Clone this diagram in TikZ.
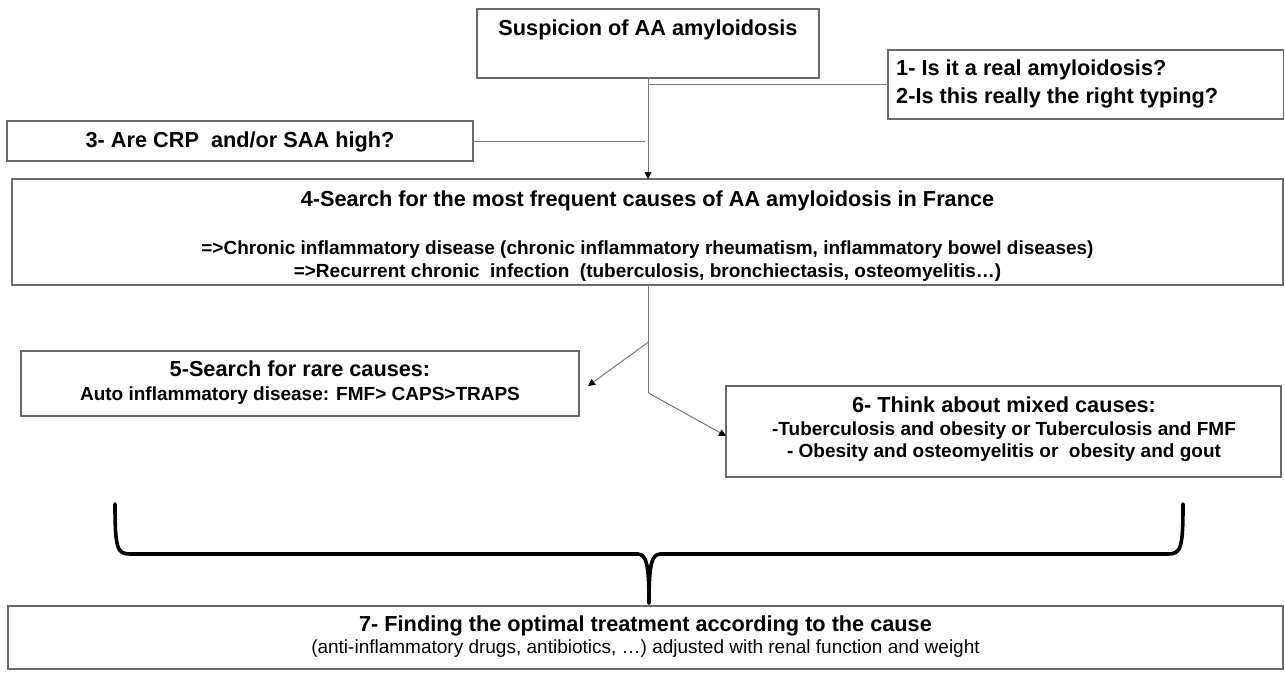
\documentclass[tikz,border=0pt]{standalone}
\usepackage{fontspec}
\setmainfont{Liberation Sans}
\usetikzlibrary{arrows.meta}
\definecolor{boxgray}{HTML}{6A6A6A}
\definecolor{linegray}{HTML}{7A7A7A}
\begin{document}
\begin{tikzpicture}[x=1pt,y=-1pt,
  box/.style={draw=boxgray, line width=1.2pt, inner sep=0pt, outer sep=0pt, anchor=north west},
  bigt/.style={inner sep=0pt, anchor=base, font=\bfseries\fontsize{21.7}{26}\selectfont},
  smallt/.style={inner sep=0pt, anchor=base, font=\bfseries\fontsize{19}{23}\selectfont},
  regt/.style={inner sep=0pt, anchor=base, font=\fontsize{19}{23}\selectfont},
  conn/.style={draw=linegray, line width=1pt},
  arr/.style={conn, -{Triangle[length=7pt,width=7pt,color=black]}},
  bracepath/.style={draw=black, line width=3.6pt, line cap=round, line join=round}]
\useasboundingbox (0,0) rectangle (1285,672);

% boxes
\node[box, minimum width=342pt, minimum height=69pt] (b1) at (477,9) {};
\node[box, minimum width=395.5pt, minimum height=69pt] (b2) at (888,50) {};
\node[box, minimum width=466pt, minimum height=40pt] (b3) at (7,121) {};
\node[box, minimum width=1271pt, minimum height=106pt] (b4) at (12,179) {};
\node[box, minimum width=558pt, minimum height=65pt] (b5) at (21,351) {};
\node[box, minimum width=555pt, minimum height=91pt] (b6) at (726,386) {};
\node[box, minimum width=1275pt, minimum height=63pt] (b7) at (8,606) {};

% texts
\node[bigt] (t1) at (648,35) {Suspicion of AA amyloidosis};
\node[bigt, anchor=base west] (t2a) at (896,75) {1- Is it a real amyloidosis?};
\node[bigt, anchor=base west] (t2b) at (896,103) {2-Is this really the right typing?};
\node[bigt] (t3) at (240,147) {3- Are CRP\ \ and/or SAA high?};
\node[bigt] (t4a) at (647.5,206) {4-Search for the most frequent causes of AA amyloidosis in France};
\node[smallt] (t4b) at (647.5,254) {=>Chronic inflammatory disease (chronic inflammatory rheumatism, inflammatory bowel diseases)};
\node[smallt] (t4c) at (647.5,277) {=>Recurrent chronic\ \ infection\ \ (tuberculosis, bronchiectasis, osteomyelitis…)};
\node[bigt] (t5a) at (300,376) {5-Search for rare causes:};
\node[smallt] (t5b) at (300,400) {Auto inflammatory disease: FMF> CAPS>TRAPS};
\node[bigt] (t6a) at (1004,412) {6- Think about mixed causes:};
\node[smallt] (t6b) at (1004,435) {-Tuberculosis and obesity or Tuberculosis and FMF};
\node[smallt] (t6c) at (1004,457) {- Obesity and osteomyelitis or\ \ obesity and gout};
\node[bigt] (t7a) at (645.5,631) {7- Finding the optimal treatment according to the cause};
\node[regt] (t7b) at (645.5,653) {(anti-inflammatory drugs, antibiotics, …) adjusted with renal function and weight};

% connectors
\coordinate (top) at (648,78);
\draw[arr] (top) -- (top |- b4.north);
\draw[conn] (b2.west) -- (b2.west -| top);
\draw[conn] (b3.east) -- ([xshift=-3pt]b3.east -| top);
\coordinate (f0) at (648.5,285);
\coordinate (f1) at (648.5,342);
\coordinate (f2) at (648.5,393);
\draw[conn] (f0) -- (f2);
\draw[arr] (f1) -- ([xshift=9pt,yshift=-2.5pt]b5.east);
\draw[arr] (f2) -- ([yshift=-4.5pt]b6.west);

% brace
\coordinate (bl) at (115,504);
\coordinate (br) at (1183,504);
\coordinate (bt) at (649,603);
\draw[bracepath] (bl) .. controls (115,548) and (117,554) .. (130,554)
  -- (638,554) .. controls (646,555) and (649,562) .. (bt);
\draw[bracepath] (br) .. controls (1183,548) and (1181,554) .. (1168,554)
  -- (660,554) .. controls (652,555) and (649,562) .. (bt);
\end{tikzpicture}
\end{document}
